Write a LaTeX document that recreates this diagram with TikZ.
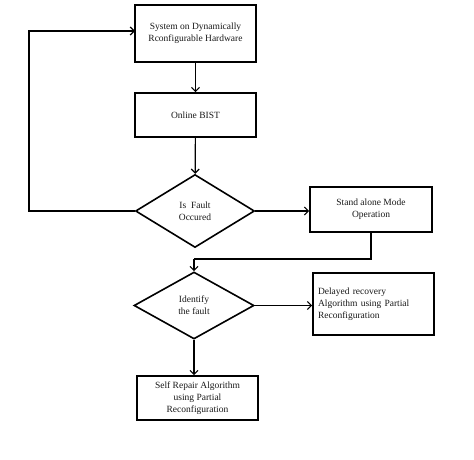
\documentclass[tikz,border=0pt]{standalone}
\usepackage{fontspec}
\setmainfont{Liberation Serif}
\usetikzlibrary{shapes.geometric,arrows.meta}
\begin{document}
\begin{tikzpicture}[x=1pt,y=-1pt,
  box/.style={draw,line width=1.6pt,inner sep=0pt,align=center,font=\fontsize{9.5}{12}\selectfont,text=black!90},
  dia/.style={draw,line width=1.6pt,diamond,inner sep=0pt,align=center,font=\fontsize{9.5}{12}\selectfont,text=black!90},
  conn/.style={line width=1.2pt,-{Straight Barb[length=4pt,width=8pt,line width=1.2pt]}},
  plain/.style={line width=1.2pt}]
\useasboundingbox (0,0) rectangle (474,460);
\node[box,minimum width=121pt,minimum height=57pt] (sys) at (195.5,33.5) {System on Dynamically\\Rconfigurable Hardware};
\node[box,minimum width=121pt,minimum height=44pt] (bist) at (195.5,115) {Online BIST};
\node[dia,minimum width=119pt,minimum height=73pt] (fault) at (195,211) {Is~ Fault\\Occured};
\node[box,minimum width=122pt,minimum height=45pt] (stand) at (371,209.5) {Stand alone Mode\\Operation};
\node[dia,minimum width=120pt,minimum height=67pt] (ident) at (194,305.5) {Identify\\the fault};
\node[box,minimum width=121pt,minimum height=62pt,align=left,text width=111pt] (delay) at (373.5,304) {Delayed recovery\\Algorithm using Partial\\Reconfiguration};
\node[box,minimum width=121pt,minimum height=44pt] (self) at (197.5,398) {Self Repair Algorithm\\using Partial\\Reconfiguration};
\coordinate (l1) at (29,211);
\coordinate (l2) at (29,31);
\coordinate (l3) at (135,31);
\coordinate (s1) at (371,259);
\coordinate (s2) at (194,259);
\draw[conn] (sys) -- (bist);
\draw[conn] (bist) -- (fault);
\draw[conn] (fault.west) -- (l1) -- (l2) -- (l3);
\draw[conn] (fault.east) -- (fault.east -| stand.west);
\draw[plain] (stand.south) -- (s1) -- (s2);
\draw[conn] (s2) -- (ident.north);
\draw[conn] (ident.east) -- (ident.east -| delay.west);
\draw[conn] (ident.south) -- (ident.south |- self.north);
\end{tikzpicture}
\end{document}
